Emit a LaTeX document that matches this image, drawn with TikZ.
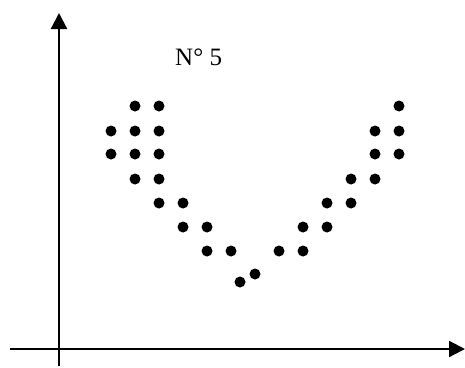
\documentclass[tikz,border=0pt]{standalone}
\usepackage{fontspec}
\setmainfont{Liberation Serif}
\usetikzlibrary{arrows.meta}

\begin{document}
\begin{tikzpicture}[
  x=1pt, y=-1pt,
  % axis lines with filled triangle tips
  axis/.style={-{Triangle[length=16pt,width=16pt]}, line width=2.2pt},
  % data points
  pt/.style={fill=black},
]
\useasboundingbox (0,0) rectangle (465,367);

%% ── Axes ─────────────────────────────────────────────────────────────────
\coordinate (ybot) at (59,366);
\coordinate (ytop) at (59,13);
\coordinate (xleft) at (10,349);
\coordinate (xright) at (465,349);
\draw[axis] (ybot) -- (ytop);
\draw[axis] (xleft) -- (xright);

%% ── Label ────────────────────────────────────────────────────────────────
\node[anchor=base west, inner sep=0pt, font=\fontsize{25}{30}\selectfont]
  (lbl) at (175,65) {N° 5};

%% ── Points: left branch ──────────────────────────────────────────────────
\foreach \px/\py in {135/106,159/106,
                     111/131,135/131,159/131,
                     111/154,135/154,159/154,
                     135/179,159/179,
                     159/203,183/203,
                     183/227,207/227,
                     207/251,231/251,
                     240/282,255/274}
  \fill[pt] (\px,\py) circle (5.5pt);

%% ── Points: right branch ─────────────────────────────────────────────────
\foreach \px/\py in {399/106,
                     375/131,399/131,
                     375/154,399/154,
                     351/179,375/179,
                     327/203,351/203,
                     303/227,327/227,
                     279/251,303/251}
  \fill[pt] (\px,\py) circle (5.5pt);

\end{tikzpicture}
\end{document}
